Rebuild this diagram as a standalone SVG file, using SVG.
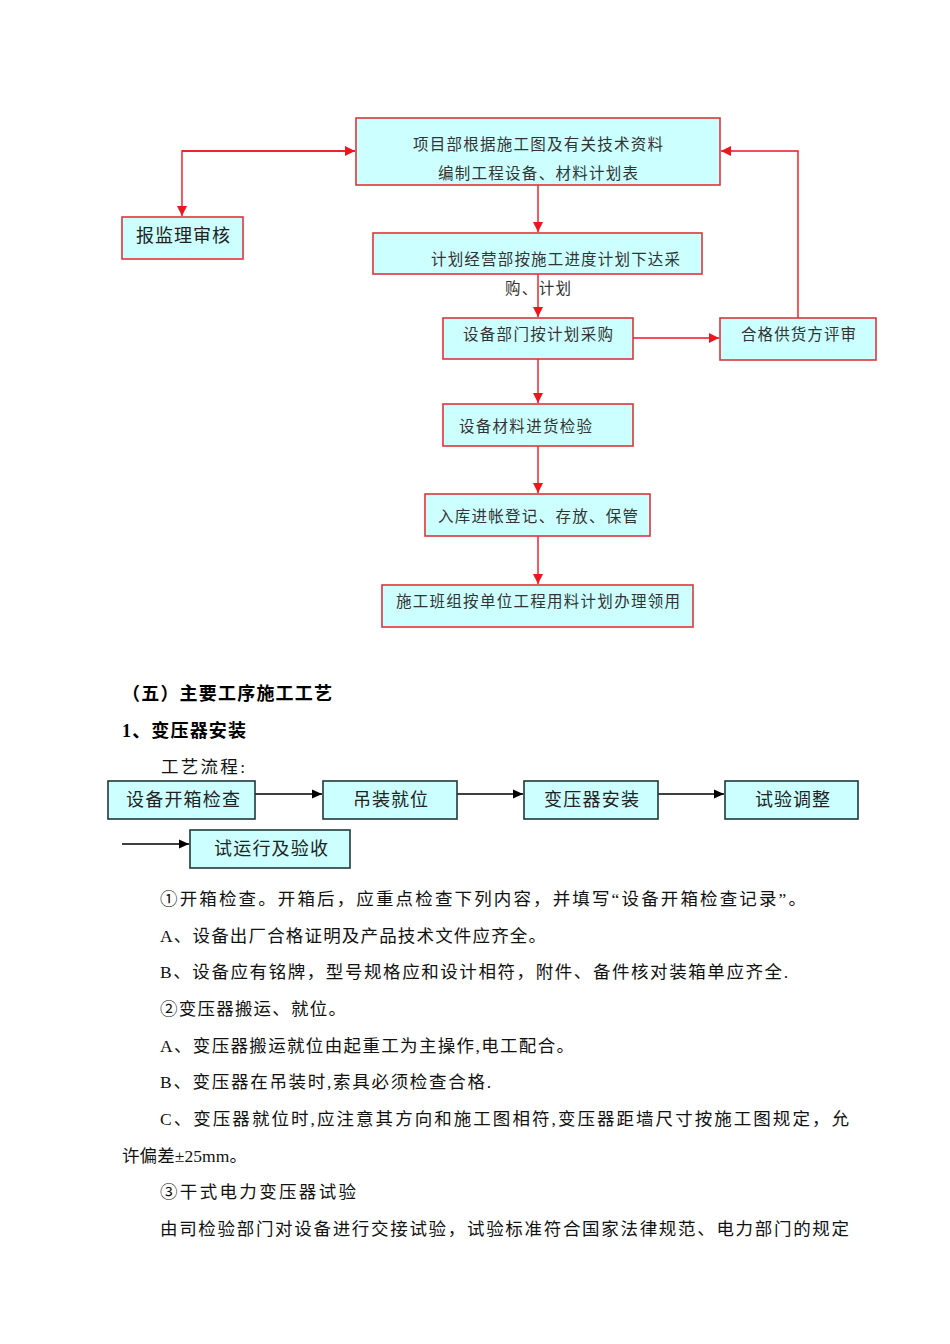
<svg xmlns="http://www.w3.org/2000/svg" width="950" height="1344" viewBox="0 0 950 1344">
<defs>
<marker id="ra" markerWidth="10" markerHeight="10" refX="10" refY="5" orient="auto" markerUnits="userSpaceOnUse"><path d="M0,0 L10,5 L0,10 Z" fill="#F0141E"/></marker>
<marker id="ba" markerWidth="10" markerHeight="10" refX="10" refY="5" orient="auto" markerUnits="userSpaceOnUse"><path d="M0,0.5 L10,5 L0,9.5 Z" fill="#000"/></marker>
</defs>
<style>
.rb{fill:#CCFFFF;stroke:#E0343C;stroke-width:1.6}
.bb{fill:#CCFFFF;stroke:#1E3A3A;stroke-width:1.6}
.t{font-family:"Liberation Serif","Noto Sans CJK SC",serif;font-size:15.5px;fill:#333;text-anchor:middle;dominant-baseline:central}
.t2{font-family:"Liberation Serif","Noto Sans CJK SC",serif;font-size:18px;fill:#222;text-anchor:middle;dominant-baseline:central}
.b{font-family:"Liberation Serif","Noto Sans CJK SC",serif;font-size:17.5px;fill:#111;dominant-baseline:central}
.h{font-family:"Liberation Serif","Noto Sans CJK SC",serif;font-size:18px;font-weight:bold;fill:#000;dominant-baseline:central}
.rl{fill:none;stroke:#F0141E;stroke-width:1.4}
.bl{fill:none;stroke:#000;stroke-width:1.4}
</style>
<rect width="950" height="1344" fill="#fff"/>

<g id="connectors">
<path class="rl" d="M355,151 L182,151 L182,216" marker-end="url(#ra)"/>
<path class="rl" d="M182,151 L355,151" marker-end="url(#ra)"/>
<path class="rl" d="M538,185 L538,232" marker-end="url(#ra)"/>
<path class="rl" d="M538,274 L538,317" marker-end="url(#ra)"/>
<path class="rl" d="M633,338 L719,338" marker-end="url(#ra)"/>
<path class="rl" d="M798,318 L798,151 L721,151" marker-end="url(#ra)"/>
<path class="rl" d="M538,359 L538,403" marker-end="url(#ra)"/>
<path class="rl" d="M538,446 L538,493" marker-end="url(#ra)"/>
<path class="rl" d="M538,536 L538,584" marker-end="url(#ra)"/>
<path class="bl" d="M255,794 L322,794" marker-end="url(#ba)"/>
<path class="bl" d="M457,794 L523,794" marker-end="url(#ba)"/>
<path class="bl" d="M658,794 L724,794" marker-end="url(#ba)"/>
<path class="bl" d="M122,844 L189,844" marker-end="url(#ba)"/>
</g>

<g id="n1"><rect class="rb" x="356" y="118" width="364" height="67"/>
<text class="t" x="538" y="144" textLength="250" lengthAdjust="spacing">项目部根据施工图及有关技术资料</text>
<text class="t" x="538" y="173" textLength="200" lengthAdjust="spacing">编制工程设备、材料计划表</text></g>
<g id="n2"><rect class="rb" x="122" y="217" width="121" height="42"/>
<text class="t2" x="183" y="236" textLength="94" lengthAdjust="spacing">报监理审核</text></g>
<g id="n3"><rect class="rb" x="373" y="233" width="329" height="41"/>
<text class="t" x="555.5" y="259" textLength="249" lengthAdjust="spacing">计划经营部按施工进度计划下达采</text>
<text class="t" x="538" y="288" textLength="66" lengthAdjust="spacing">购、计划</text></g>
<g id="n4"><rect class="rb" x="443" y="318" width="190" height="41"/>
<text class="t" x="538" y="334" textLength="150" lengthAdjust="spacing">设备部门按计划采购</text></g>
<g id="n5"><rect class="rb" x="720" y="318" width="156" height="42"/>
<text class="t" x="798.5" y="334" textLength="115" lengthAdjust="spacing">合格供货方评审</text></g>
<g id="n6"><rect class="rb" x="443" y="404" width="190" height="42"/>
<text class="t" x="525.5" y="426" textLength="133" lengthAdjust="spacing">设备材料进货检验</text></g>
<g id="n7"><rect class="rb" x="425" y="494" width="225" height="42"/>
<text class="t" x="538" y="516" textLength="200" lengthAdjust="spacing">入库进帐登记、存放、保管</text></g>
<g id="n8"><rect class="rb" x="382" y="585" width="311" height="42"/>
<text class="t" x="538" y="601" textLength="284" lengthAdjust="spacing">施工班组按单位工程用料计划办理领用</text></g>

<text class="h" x="122" y="694" textLength="210" lengthAdjust="spacing">（五）主要工序施工工艺</text>
<text class="h" x="122" y="731" textLength="124" lengthAdjust="spacing">1、变压器安装</text>
<text class="b" x="161" y="767" textLength="84" lengthAdjust="spacing">工艺流程:</text>

<g id="f1"><rect class="bb" x="108" y="781" width="147" height="38"/>
<text class="t2" x="183" y="800" textLength="114" lengthAdjust="spacing">设备开箱检查</text></g>
<g id="f2"><rect class="bb" x="323" y="781" width="134" height="38"/>
<text class="t2" x="390.5" y="800" textLength="75" lengthAdjust="spacing">吊装就位</text></g>
<g id="f3"><rect class="bb" x="524" y="781" width="134" height="38"/>
<text class="t2" x="591.5" y="800" textLength="95" lengthAdjust="spacing">变压器安装</text></g>
<g id="f4"><rect class="bb" x="725" y="781" width="133" height="38"/>
<text class="t2" x="792.5" y="800" textLength="75" lengthAdjust="spacing">试验调整</text></g>
<g id="f5"><rect class="bb" x="190" y="830" width="160" height="38"/>
<text class="t2" x="271" y="849" textLength="114" lengthAdjust="spacing">试运行及验收</text></g>

<g id="body">
<text class="b" x="160" y="899" textLength="646" lengthAdjust="spacing">①开箱检查。开箱后，应重点检查下列内容，并填写“设备开箱检查记录”。</text>
<text class="b" x="160" y="936" textLength="386" lengthAdjust="spacing">A、设备出厂合格证明及产品技术文件应齐全。</text>
<text class="b" x="160" y="972" textLength="628" lengthAdjust="spacing">B、设备应有铭牌，型号规格应和设计相符，附件、备件核对装箱单应齐全.</text>
<text class="b" x="160" y="1009" textLength="186" lengthAdjust="spacing">②变压器搬运、就位。</text>
<text class="b" x="160" y="1046" textLength="414" lengthAdjust="spacing">A、变压器搬运就位由起重工为主操作,电工配合。</text>
<text class="b" x="160" y="1082" textLength="331" lengthAdjust="spacing">B、变压器在吊装时,索具必须检查合格.</text>
<text class="b" x="160" y="1119" textLength="689" lengthAdjust="spacing">C、变压器就位时,应注意其方向和施工图相符,变压器距墙尺寸按施工图规定，允</text>
<text class="b" x="122" y="1156" textLength="125" lengthAdjust="spacing">许偏差±25mm。</text>
<text class="b" x="160" y="1192" textLength="196" lengthAdjust="spacing">③干式电力变压器试验</text>
<text class="b" x="160" y="1229" textLength="689" lengthAdjust="spacing">由司检验部门对设备进行交接试验，试验标准符合国家法律规范、电力部门的规定</text>
</g>
</svg>
